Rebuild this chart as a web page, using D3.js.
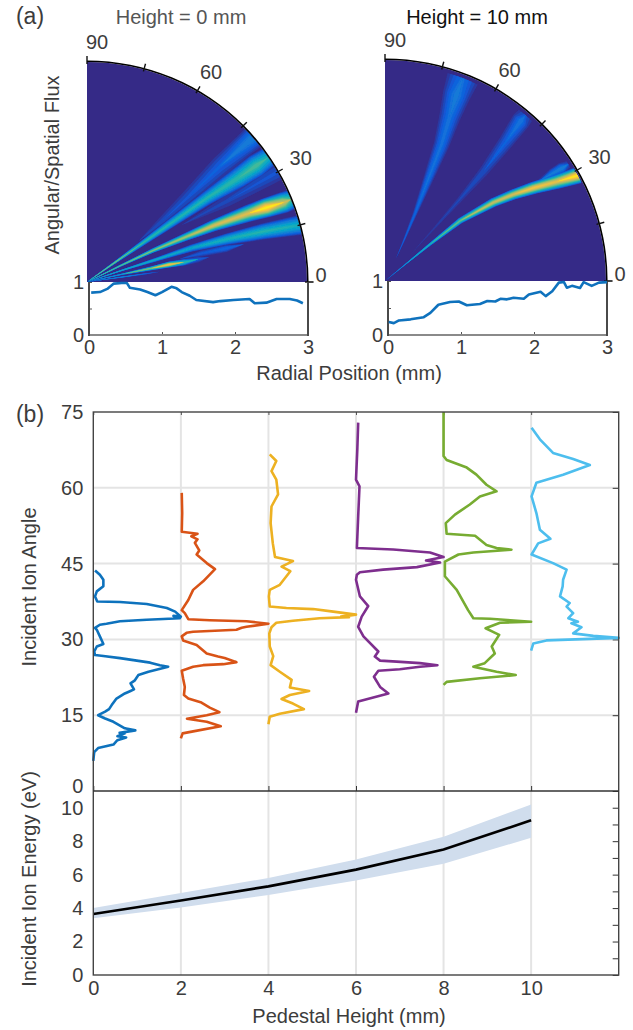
<!DOCTYPE html>
<html>
<head>
<meta charset="utf-8">
<script src="https://cdn.jsdelivr.net/npm/d3@7"></script>
<style>
  body { margin: 0; background: #fff; }
  text { font-family: "Liberation Sans", Arial, sans-serif; }
</style>
</head>
<body>
<svg id="chart" width="633" height="1030"></svg>
<script>
// beam stations: [radius mm, angle deg, half width deg, peak flux]
var beamsLeft = [
  [[0.9,38.5,2,0],[1.3,39,3.5,.08],[1.8,40,4,.1],[2.4,41,4,.13],[2.85,41,3.5,.2],[3,41,3.5,.22]],
  [[0,35,1.5,.5],[.5,35,2,.6],[1,35,2.5,.45],[1.5,35,2.8,.42],[2,35,3,.42],[2.5,34.5,3.5,.45],[2.8,34.5,3.5,.5],[3,34.5,3,.4]],
  [[1.5,31,1.5,.03],[2.2,30,3,.07],[2.9,30,3,.1],[3,30,3,.1]],
  [[0,26,1,.5],[.5,26,1.5,.55],[1,25.5,1.8,.6],[1.5,24.5,2.2,.65],[1.9,24,2.5,.75],[2.4,23,2.9,.78],[2.65,22.5,3,1],[2.9,22,3,.72],[3,22,2.8,.5]],
  [[0,19,1,.4],[.5,18.5,1.3,.4],[1,18,1.6,.38],[1.5,18,2,.35],[2,17,2.4,.4],[2.5,16,2.7,.42],[3,15,2.8,.38]],
  [[0,13,1,.35],[.5,12.5,1.2,.35],[.9,12,1.8,.6],[1.15,12,2.1,.85],[1.35,11.5,2,.45],[1.55,11.5,1.8,.12],[1.7,11.5,1,.03]],
  [[1.3,14,1,.03],[1.6,14,1.8,.12],[1.95,13.6,1.8,.15],[2.2,13.5,1,.03]],
  [[0,8,.8,.3],[.5,8,1,.3],[.8,8,.8,.15],[1,8,.5,.03]]
];
var beamsRight = [
  [[.35,64,.8,.05],[.6,65,1.5,.13],[1,66,2,.15],[1.5,67,3,.17],[2,67.5,3.5,.17],[2.4,68.5,4,.17],[2.7,69,4.5,.2],[2.95,69,5,.16]],
  [[.5,46,1,.03],[1,47,1.5,.05],[1.5,47.5,2,.07],[2,48,2.5,.09],[2.5,49,2.8,.13],[2.85,49.7,3,.18],[2.95,49.7,3,.1]],
  [[0,39.5,.5,.25],[.32,39.3,.8,.35],[.79,39.2,1.4,.42],[1.31,38.7,1.9,.55],[1.82,35.9,2.1,.72],[2.1,34,2.1,.75],[2.39,32,2.2,.85],[2.7,30,2.3,.8],[2.98,28.7,2.3,1]],
  [[2.5,33,1,.05],[2.7,32.7,1.6,.2],[2.85,32.5,1.8,.22],[2.95,32.5,1.2,.1]]
];
var fluxLevels = [.03,.06,.09,.12,.15,.18,.22,.26,.3,.35,.4,.45,.5,.55,.6,.65,.7,.75,.8,.85,.9,.95];
var parulaStops = [0,.1,.2,.3,.42,.55,.7,.85,1];
var parulaColors = ["#352a87","#0f5cdd","#1481d6","#06a4ca","#2eb7a4","#87bf77","#d1bb59","#fec832","#f9fb0e"];
var polarTicks = [0,15,30,45,60,75,90];
var polarLabels = [0,30,60,90];

// normalised flux against radius, under each fan
var profileLeft = [[.03,.8],[.15,.81],[.25,.87],[.34,.97],[.45,.98],[.52,.98],[.56,.89],[.7,.86],[.8,.81],[.91,.75],[1,.81],[1.13,.91],[1.2,.88],[1.27,.81],[1.38,.74],[1.47,.66],[1.7,.62],[1.8,.64],[1.98,.66],[2.2,.68],[2.27,.6],[2.43,.61],[2.57,.68],[2.75,.68],[2.85,.65],[2.93,.6]];
var profileRight = [[.01,.24],[.08,.22],[.15,.27],[.31,.29],[.49,.33],[.58,.41],[.69,.56],[.85,.61],[.97,.62],[1.08,.55],[1.26,.575],[1.36,.63],[1.47,.62],[1.54,.67],[1.63,.66],[1.72,.69],[1.86,.67],[1.93,.75],[2.09,.8],[2.16,.72],[2.25,.81],[2.34,.97],[2.41,.98],[2.45,.875],[2.52,.91],[2.63,.87],[2.68,.98],[2.79,.91],[2.89,.97],[3,.98]];

var heights = [0,2,4,6,8,10];
// flux offset in mm from the pedestal height, against incident angle
var angleBlue = [[0,5.95],[.02,7.7],[.11,8.5],[.46,9.2],[.55,10.05],[.75,10.6],[.55,10.85],[.72,11.4],[.6,11.5],[.96,12],[.72,12.4],[.62,12.9],[.46,13.7],[.27,14.35],[.11,15],[.27,15.7],[.36,16.2],[.42,17],[.53,18.3],[.72,19.3],[.85,19.8],[.93,20.1],[.85,21.3],[.95,21.9],[1.03,22.95],[1.26,23.6],[1.71,24.6],[1.52,24.9],[1.3,25.4],[1.07,25.7],[.61,26.3],[.23,26.7],[.04,26.9],[.02,27.6],[.08,28.6],[.23,29.1],[.15,30.6],[.08,31.9],[.04,32.3],[.15,32.9],[.3,33.1],[.61,33.6],[1.22,33.9],[1.98,34.2],[1.83,34.65],[2,34.5],[1.87,35.5],[1.68,36.2],[1.22,37],[.61,37.4],[.09,37.5],[.04,38.5],[.08,39.5],[.23,40.5],[.23,41.8],[.15,42.8],[.04,43.65]];
var angleOrange = [[0,10.4],[.04,11.4],[.28,11.8],[.91,12.8],[.59,13.7],[.14,14.3],[.59,15],[.88,15.6],[.66,16.5],[.47,17.5],[.17,18.3],[.07,19],[.09,20.6],[.05,22.3],[.02,23.8],[.28,24.6],[.51,24.9],[.97,25.1],[1.27,25.5],[1,26.3],[.85,26.6],[.59,27.2],[.36,28.9],[.05,29.8],[.02,30.6],[.13,31.3],[.28,31.5],[1.27,31.9],[1.39,32.3],[1.5,32.5],[2,33.1],[1.5,33.6],[.66,33.8],[.17,34],[.09,35.2],[.02,35.8],[.17,37.8],[.28,39.8],[.51,41.5],[.78,43.9],[.59,45.1],[.36,46.8],[.42,47.6],[.32,49.1],[.38,49.8],[.24,50.4],[.38,50.9],[.02,51.3],[.03,55],[.02,59]];
var angleYellow = [[0,13.2],[.03,14.7],[.26,15.3],[.81,16.2],[.56,17.3],[.3,18.2],[.49,19],[.93,19.8],[.49,20.5],[.53,22],[.26,23.6],[.05,24.9],[.11,26.7],[.03,28.6],[.02,31.2],[.07,32.4],[.18,33.3],[.56,33.7],[1.17,34.2],[1.84,34.4],[1.66,34.5],[2,34.9],[1.48,35.5],[1.02,36],[.41,36.2],[.03,36.5],[.01,38.5],[.03,39.8],[.26,40.8],[.5,43.5],[.3,44.4],[.56,45.5],[.15,46.3],[.1,49],[.05,53],[.07,56.3],[.22,58.7],[.18,61.6],[.07,63.3],[.18,65.3],[.03,66.6]];
var anglePurple = [[0,15.5],[.05,17.7],[.74,19.3],[.55,20.6],[.41,22.6],[.51,23.8],[1,24.1],[1.46,24.6],[1.86,24.9],[1.46,25.3],[.93,25.6],[.55,25.8],[.43,26.6],[.51,27.6],[.17,30.6],[.05,32.5],[.13,34.5],[.28,36.6],[.09,38.5],[0,41.8],[.02,42.8],[.09,43.3],[.62,43.8],[1.39,44.3],[1.92,45.2],[1.6,45.6],[2,46.3],[1.69,47.2],[.85,47.8],[.02,48.1],[.05,54.4],[.08,60.3],[0,61.6],[.03,67.6],[.05,72.9]];
var angleGreen = [[0,21],[.07,21.6],[.83,22.3],[1.65,22.95],[1.21,23.6],[.68,24.6],[.94,25.3],[1.17,27.2],[1.1,28.6],[1.27,30.9],[1.13,31.5],[.96,32.2],[1.29,33.3],[2,33.5],[1.06,34.1],[.68,34.2],[.56,35.8],[.3,39.8],[.03,42.5],[.03,45.4],[.34,46.8],[.68,47.2],[1.55,47.75],[1.21,48.1],[.98,48.7],[.72,50.5],[.07,50.9],[.05,53],[.26,54.7],[.6,56.7],[.83,58.3],[1.21,59.3],[.98,60.6],[.75,62.6],[.53,64],[.07,65.5],[0,66.3],[0,75]];
var angleSky = [[0,27.8],[.05,29.2],[.35,29.8],[2,30.3],[1.42,30.7],[.96,31.2],[1.15,32.4],[.92,33.2],[1.07,33.5],[.85,34.2],[.96,35.2],[.81,36.5],[.88,37.2],[.66,38.5],[.72,40.5],[.73,41.8],[.81,43.8],[.5,45.1],[.01,46.8],[.16,49],[.44,49.9],[.2,51.7],[.12,55],[.01,58.3],[.12,61],[.73,62.6],[1.34,64.5],[.96,65.7],[.5,66.9],[.2,69.6],[.01,71.9]];
var angleSeries = [angleBlue, angleOrange, angleYellow, anglePurple, angleGreen, angleSky];
var angleColors = ["#0f72bd","#d95319","#edb120","#7e2f8e","#77ac30","#4dbeee"];
var angleTicks = [0,15,30,45,60,75];

var energyMean = [3.65,4.45,5.3,6.3,7.5,9.25];
var energyUpper = [4,4.9,5.8,6.9,8.27,10.2];
var energyLower = [3.4,4.03,4.78,5.65,6.65,8.2];
var heightTicks = [0,2,4,6,8,10];
var energyLabels = [0,2,4,6,8,10];
var energyMinor = [1,3,5,7,9];

var svg = d3.select("#chart");
var inkColor = "#3c3c3c";
var fontSize = 20;

var defs = svg.append("defs");
defs.append("filter").attr("id", "soft").append("feGaussianBlur").attr("stdDeviation", 0.6);
defs.append("filter").attr("id", "softLine").append("feGaussianBlur").attr("stdDeviation", 0.3);

var parula = d3.scaleLinear().domain(parulaStops).range(parulaColors).clamp(true);
var lineStyle = function(sel) {
  sel.selectAll(".domain").remove();
  sel.selectAll("text").attr("font-size", fontSize).attr("fill", inkColor);
};

function addText(x, y, str, opts) {
  opts = opts || {};
  return svg.append("text")
    .attr("transform", "translate(" + x + "," + y + ")" + (opts.rotate ? " rotate(" + opts.rotate + ")" : ""))
    .attr("text-anchor", opts.anchor || "middle")
    .attr("font-size", opts.size || fontSize)
    .attr("fill", opts.fill || inkColor)
    .text(str);
}

// one quarter fan plus the flux profile under it
function drawFan(cx, cy, R, beams, profile, plotX0, plotX3, idx) {
  var g = svg.append("g").attr("transform", "translate(" + cx + "," + cy + ")");
  var rScale = d3.scaleLinear().domain([0, 3]).range([0, R]);
  var toRad = function(deg) { return (90 - deg) * Math.PI / 180; };

  var clipId = "wedge" + idx;
  var wedge = d3.arc().innerRadius(0).outerRadius(R).startAngle(0).endAngle(Math.PI / 2);
  g.append("clipPath").attr("id", clipId).append("path").attr("d", wedge());
  g.append("path").attr("d", wedge()).attr("fill", parula(0));

  var heat = g.append("g").attr("clip-path", "url(#" + clipId + ")")
    .append("g").attr("filter", "url(#soft)");
  fluxLevels.forEach(function(level) {
    beams.forEach(function(beam) {
      if (d3.max(beam, function(d) { return d[3]; }) <= level) return;
      var spread = function(d) { return d[3] > level ? d[2] * Math.pow(1 - level / d[3], .8) : 0; };
      var area = d3.areaRadial()
        .startAngle(function(d) { return toRad(d[1] + spread(d)); })
        .endAngle(function(d) { return toRad(d[1] - spread(d)); })
        .radius(function(d) { return rScale(d[0]); });
      heat.append("path").attr("d", area(beam)).attr("fill", parula(level));
    });
  });

  // rim and angular ticks
  g.append("path")
    .attr("d", d3.arc().innerRadius(R).outerRadius(R + 1.6).startAngle(0).endAngle(Math.PI / 2)())
    .attr("fill", "#000");
  polarTicks.forEach(function(t) {
    var a = t * Math.PI / 180;
    g.append("line")
      .attr("x1", (R - 2) * Math.cos(a)).attr("y1", -(R - 2) * Math.sin(a))
      .attr("x2", (R + 6) * Math.cos(a)).attr("y2", -(R + 6) * Math.sin(a))
      .attr("stroke", "#111").attr("stroke-width", 1.4);
  });
  var nudge = {0: [8, 0], 30: [18, -4], 60: [11, -7], 90: [10, -7]};
  polarLabels.forEach(function(t) {
    var a = t * Math.PI / 180;
    g.append("text")
      .attr("x", (R + 6) * Math.cos(a) + nudge[t][0])
      .attr("y", -(R + 6) * Math.sin(a) + nudge[t][1])
      .attr("text-anchor", "middle")
      .attr("font-size", fontSize).attr("fill", inkColor)
      .text(t);
  });

  // profile panel
  var px = d3.scaleLinear().domain([0, 3]).range([plotX0, plotX3]);
  var py = d3.scaleLinear().domain([0, 1]).range([335, cy]);
  var axB = svg.append("g").attr("transform", "translate(0,335)")
    .call(d3.axisBottom(px).tickValues([0, 1, 2, 3]).tickSize(-3).tickPadding(5).tickFormat(d3.format("d")));
  lineStyle(axB);
  axB.selectAll("line").attr("stroke", "#555");
  var axL = svg.append("g").attr("transform", "translate(" + plotX0 + ",0)")
    .call(d3.axisLeft(py).tickValues([0, .5, 1]).tickSize(-3).tickPadding(5)
      .tickFormat(function(d) { return d === .5 ? "" : d; }));
  lineStyle(axL);
  axL.selectAll("line").attr("stroke", "#555");
  svg.append("line").attr("x1", plotX0).attr("x2", plotX3).attr("y1", 335).attr("y2", 335)
    .attr("stroke", "#8a8a8a").attr("stroke-width", 2);
  [plotX0, plotX3].forEach(function(x) {
    svg.append("line").attr("x1", x).attr("x2", x).attr("y1", cy).attr("y2", 336)
      .attr("stroke", "#4a4a4a").attr("stroke-width", 2);
  });
  svg.append("line").attr("x1", plotX3).attr("x2", plotX3 + 6).attr("y1", cy).attr("y2", cy)
    .attr("stroke", "#333").attr("stroke-width", 1);
  svg.append("path").datum(profile)
    .attr("d", d3.line().x(function(d) { return px(d[0]); }).y(function(d) { return py(d[1]); }))
    .attr("fill", "none").attr("stroke", "#0f72bd").attr("stroke-width", 2.6)
    .attr("stroke-linejoin", "round");
}

drawFan(87, 282, 220, beamsLeft, profileLeft, 89, 308, 0);
drawFan(385, 281, 221, beamsRight, profileRight, 388, 607, 1);

addText(30, 24, "(a)", {size: 23});
addText(181, 24, "Height = 0 mm", {fill: "#555"});
addText(477, 24, "Height = 10 mm", {fill: "#111"});
addText(59, 165, "Angular/Spatial Flux", {rotate: -90});
addText(349, 380, "Radial Position (mm)");

// panel (b), incident angle
var frameL = 93.3, frameR = 618.7, frameT = 412, frameM = 791, frameB = 975;
var x = d3.scaleLinear().domain([0, 12]).range([frameL, frameR]);
var yAngle = d3.scaleLinear().domain([0, 75]).range([frameM, frameT]);
var yEnergy = d3.scaleLinear().domain([0, 11]).range([frameB, frameM]);

var grid = svg.append("g").attr("stroke", "#e4e4e4").attr("stroke-width", 2);
heightTicks.slice(1).forEach(function(h) {
  grid.append("line").attr("x1", x(h)).attr("x2", x(h)).attr("y1", frameT).attr("y2", frameB);
});
angleTicks.slice(1, 5).forEach(function(a) {
  grid.append("line").attr("x1", frameL).attr("x2", frameR).attr("y1", yAngle(a)).attr("y2", yAngle(a));
});

var angleAxis = svg.append("g").attr("transform", "translate(" + frameL + ",0)")
  .call(d3.axisLeft(yAngle).tickValues(angleTicks).tickSize(0).tickPadding(10));
lineStyle(angleAxis);
// the 0 and 75 labels sit a little off their ticks in the original
angleAxis.selectAll(".tick text").filter(function(d) { return d === 0; }).attr("dy", "0.05em");
var angleRight = svg.append("g").attr("transform", "translate(" + frameR + ",0)")
  .call(d3.axisLeft(yAngle).tickValues(angleTicks).tickSize(6).tickFormat(""));
lineStyle(angleRight);
angleRight.selectAll("line").attr("stroke", "#333");
var angleBottom = svg.append("g").attr("transform", "translate(0," + frameM + ")")
  .call(d3.axisTop(x).tickValues(heightTicks).tickSize(5).tickFormat(""));
lineStyle(angleBottom);
angleBottom.selectAll("line").attr("stroke", "#333");
var angleTop = svg.append("g").attr("transform", "translate(0," + frameT + ")")
  .call(d3.axisBottom(x).tickValues(heightTicks).tickSize(3).tickFormat(""));
lineStyle(angleTop);
angleTop.selectAll("line").attr("stroke", "#555");

var curveGroup = svg.append("g").attr("filter", "url(#softLine)");
angleSeries.forEach(function(series, i) {
  curveGroup.append("path").datum(series)
    .attr("d", d3.line()
      .x(function(d) { return x(heights[i] + d[0]); })
      .y(function(d) { return yAngle(d[1]); }))
    .attr("fill", "none")
    .attr("stroke", angleColors[i])
    .attr("stroke-width", 2.6)
    .attr("stroke-linejoin", "round");
});

// panel (b), incident energy
var bandArea = d3.area()
  .x(function(d, i) { return x(heights[i]); })
  .y0(function(d, i) { return yEnergy(energyLower[i]); })
  .y1(function(d, i) { return yEnergy(energyUpper[i]); });
svg.append("path").attr("d", bandArea(energyMean)).attr("fill", "#d0dded");
svg.append("path").datum(energyMean)
  .attr("d", d3.line().x(function(d, i) { return x(heights[i]); }).y(function(d) { return yEnergy(d); }))
  .attr("fill", "none").attr("stroke", "#000").attr("stroke-width", 2.6);

var energyAxis = svg.append("g").attr("transform", "translate(" + frameL + ",0)")
  .call(d3.axisLeft(yEnergy).tickValues(energyLabels).tickSize(0).tickPadding(10));
lineStyle(energyAxis);
var energyRight = svg.append("g").attr("transform", "translate(" + frameR + ",0)")
  .call(d3.axisLeft(yEnergy).tickValues(energyLabels.concat(energyMinor)).tickSize(6).tickFormat(""));
lineStyle(energyRight);
energyRight.selectAll("line").attr("stroke", "#333");
var heightAxis = svg.append("g").attr("transform", "translate(0," + frameB + ")")
  .call(d3.axisBottom(x).tickValues(heightTicks).tickSize(0).tickPadding(6));
lineStyle(heightAxis);

svg.append("rect").attr("x", frameL).attr("y", frameT).attr("width", frameR - frameL).attr("height", frameB - frameT)
  .attr("fill", "none").attr("stroke", "#444").attr("stroke-width", 1.4);
svg.append("line").attr("x1", frameL).attr("x2", frameR).attr("y1", frameM).attr("y2", frameM)
  .attr("stroke", "#333").attr("stroke-width", 1.4);

addText(30, 422, "(b)", {size: 23});
addText(36, 587, "Incident Ion Angle", {rotate: -90});
addText(36, 879, "Incident Ion Energy (eV)", {rotate: -90});
addText(349, 1023, "Pedestal Height (mm)");
</script>
</body>
</html>
